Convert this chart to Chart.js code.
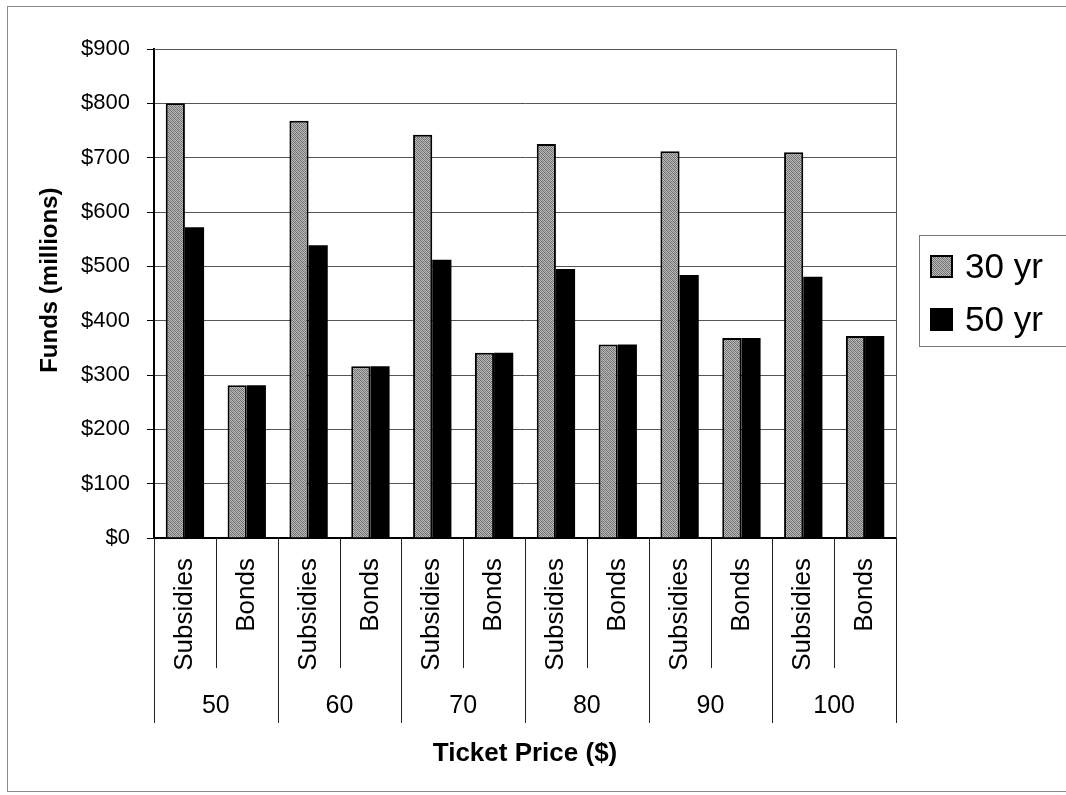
<!DOCTYPE html>
<html>
<head>
<meta charset="utf-8">
<script src="https://cdn.jsdelivr.net/npm/chart.js@4.4.0/dist/chart.umd.min.js"></script>
<style>
  html, body { margin: 0; padding: 0; background: #fff; }
  #wrap { width: 1066px; height: 795px; }
</style>
</head>
<body>
<div id="wrap"><canvas id="fundsChart" width="1066" height="795"></canvas></div>
<script>
// data
const prices = ['50', '60', '70', '80', '90', '100'];
const fundTypes = ['Subsidies', 'Bonds'];
const seriesNames = ['30 yr', '50 yr'];
const values30yr = [800, 281, 768, 316, 742, 341, 725, 356, 712, 368, 710, 372];
const values50yr = [572, 281, 539, 316, 512, 341, 495, 356, 484, 368, 481, 372];
const yMin = 0, yMax = 900, yStep = 100;

const labels = prices.flatMap(() => fundTypes);
const FONT = '"Liberation Sans", Arial, sans-serif';

// grey stipple like the old excel fill
function makeStipple() {
  const c = document.createElement('canvas');
  c.width = 4; c.height = 4;
  const g = c.getContext('2d');
  const shades = [
    [0x70, 0xb8, 0x84, 0xc0],
    [0xc2, 0x66, 0xae, 0x78],
    [0x80, 0xbc, 0x6c, 0xb4],
    [0xb6, 0x7c, 0xc0, 0x6e]
  ];
  for (let y = 0; y < 4; y++) {
    for (let x = 0; x < 4; x++) {
      const v = shades[y][x];
      g.fillStyle = `rgb(${v},${v},${v})`;
      g.fillRect(x, y, 1, 1);
    }
  }
  return g.createPattern(c, 'repeat');
}

const frame = {
  id: 'frame',
  beforeDraw(chart) {
    const ctx = chart.ctx;
    ctx.save();
    ctx.fillStyle = '#fff';
    ctx.fillRect(0, 0, chart.width, chart.height);
    ctx.strokeStyle = '#8a8a8a';
    ctx.lineWidth = 1;
    ctx.strokeRect(7.5, 6.5, 1080, 785);
    ctx.restore();
  },
  afterDraw(chart) {
    const { ctx, chartArea: a, scales: { x } } = chart;
    ctx.save();

    // plot area frame (top / right)
    ctx.strokeStyle = '#555';
    ctx.lineWidth = 1;
    ctx.beginPath();
    ctx.moveTo(a.left, a.top + 0.5);
    ctx.lineTo(Math.round(a.right) + 0.5, a.top + 0.5);
    ctx.lineTo(Math.round(a.right) + 0.5, a.bottom);
    ctx.stroke();

    // separators of the two level category axis
    ctx.strokeStyle = '#222';
    for (let i = 0; i <= labels.length; i++) {
      const px = Math.round(x.getPixelForValue(i - 0.5)) + 0.5;
      const len = i % 2 === 0 ? 185 : 130;
      ctx.beginPath();
      ctx.moveTo(px, a.bottom);
      ctx.lineTo(px, a.bottom + len);
      ctx.stroke();
    }

    ctx.fillStyle = '#000';
    ctx.font = '25px ' + FONT;
    ctx.textAlign = 'center';
    ctx.textBaseline = 'middle';
    prices.forEach((p, g) => {
      ctx.fillText(p, x.getPixelForValue(g * 2 + 0.5), a.bottom + 168);
    });

    // legend box
    ctx.strokeStyle = '#777';
    ctx.lineWidth = 1;
    ctx.strokeRect(919.5, 235.5, 200, 111);
    ctx.font = '35px ' + FONT;
    ctx.textAlign = 'left';
    chart.data.datasets.forEach((ds, i) => {
      const cy = 266 + i * 53;
      ctx.fillStyle = ds.backgroundColor;
      ctx.fillRect(930, cy - 11, 23, 23);
      ctx.strokeStyle = '#000';
      ctx.lineWidth = 2;
      ctx.strokeRect(931, cy - 10, 21, 21);
      ctx.fillStyle = '#000';
      ctx.fillText(ds.label, 965, cy + 2);
    });

    ctx.restore();
  }
};

const stipple = makeStipple();

new Chart(document.getElementById('fundsChart'), {
  type: 'bar',
  data: {
    labels: labels,
    datasets: [
      {
        label: seriesNames[0],
        data: values30yr,
        backgroundColor: stipple,
        borderColor: '#000',
        borderWidth: 2,
        categoryPercentage: 0.62,
        barPercentage: 1.0
      },
      {
        label: seriesNames[1],
        data: values50yr,
        backgroundColor: '#000',
        borderColor: '#000',
        borderWidth: 0,
        categoryPercentage: 0.62,
        barPercentage: 1.0
      }
    ]
  },
  options: {
    responsive: false,
    animation: false,
    layout: { padding: { left: 10, top: 49, right: 170, bottom: 0 } },
    plugins: {
      legend: { display: false },
      tooltip: { enabled: false }
    },
    scales: {
      x: {
        afterFit(scale) { scale.height = 257; },
        grid: { display: false },
        border: { display: true, color: '#000', width: 2 },
        ticks: {
          color: '#000',
          font: { family: FONT, size: 26 },
          minRotation: 90,
          maxRotation: 90,
          autoSkip: false,
          padding: 12
        },
        title: {
          display: true,
          text: 'Ticket Price ($)',
          color: '#000',
          font: { family: FONT, size: 26, weight: 'bold' },
          padding: { top: 0, bottom: 26 }
        }
      },
      y: {
        min: yMin,
        max: yMax,
        afterFit(scale) { scale.width = 144; },
        grid: { color: '#555', lineWidth: 1, tickLength: 7, tickColor: '#000' },
        border: { display: true, color: '#000', width: 2 },
        ticks: {
          stepSize: yStep,
          color: '#000',
          padding: 17,
          font: { family: FONT, size: 22 },
          callback: v => '$' + v
        },
        title: {
          display: true,
          text: '    Funds (millions)',
          color: '#000',
          font: { family: FONT, size: 24, weight: 'bold' },
          padding: { top: 26, bottom: 0 }
        }
      }
    }
  },
  plugins: [frame]
});
</script>
</body>
</html>
